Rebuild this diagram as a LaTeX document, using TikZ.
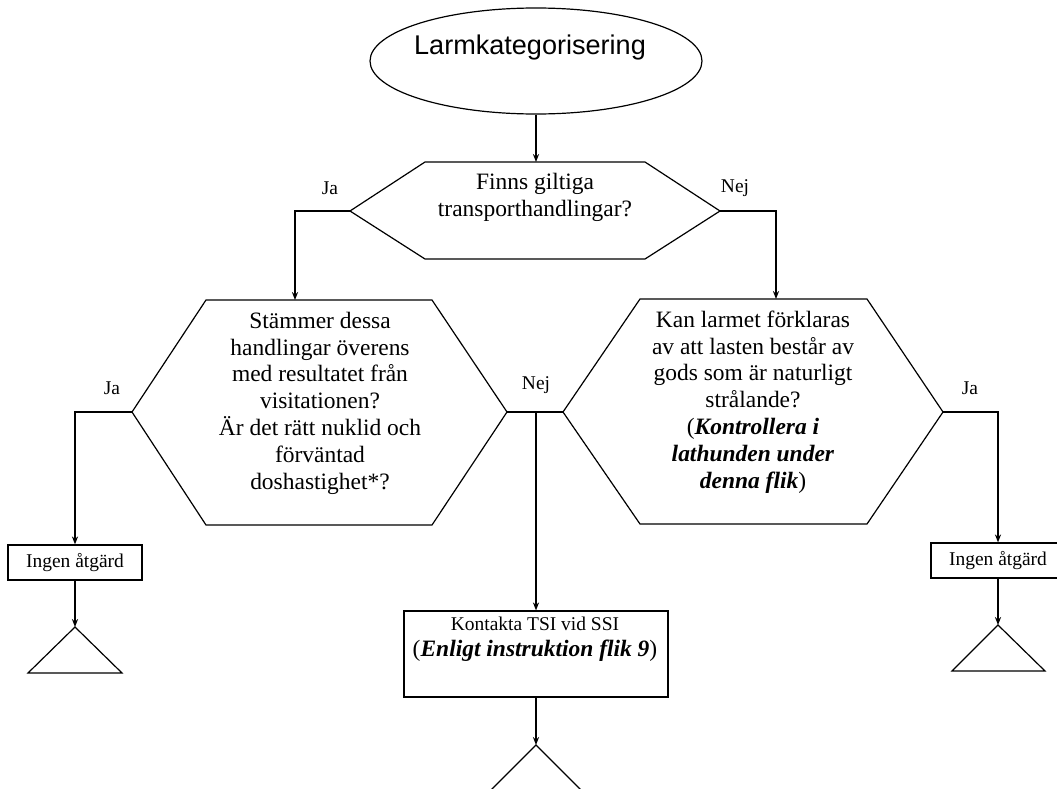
\documentclass[tikz,border=0pt]{standalone}
\usepackage{fontspec}
\setmainfont{Liberation Serif}
\newfontfamily\arialf{Liberation Sans}
\usetikzlibrary{shapes.geometric,arrows.meta}
\newcommand{\fbig}{\fontsize{17.6}{20.1}\selectfont}
\newcommand{\fsmall}{\fontsize{14.6}{17}\selectfont}
\newcommand{\fstart}{\arialf\fontsize{20.3}{24}\selectfont}
\begin{document}
\begin{tikzpicture}[x=0.75pt,y=-0.75pt,
  outline/.style={draw, line width=0.9pt, line join=miter},
  conn/.style={-{Stealth[length=6pt,width=4.6pt]}, line width=0.9pt},
  plain/.style={line width=0.9pt},
  qtext/.style={align=center, inner sep=0pt, font=\fbig},
  lbl/.style={inner sep=0pt, font=\fsmall},
  actbox/.style={draw, line width=0.9pt, inner sep=0pt}]
\useasboundingbox (0,0) rectangle (1057,789);

% start ellipse
\node[draw, ellipse, line width=0.9pt, minimum width=332*0.75pt, minimum height=106*0.75pt, inner sep=0pt] (start) at (536,61) {};
\node[inner sep=0pt, font=\fstart] (starttext) at (530,47) {Larmkategorisering};

% question 1
\coordinate (q1w) at (350,211);
\coordinate (q1nw) at (425,162);
\coordinate (q1n) at (536,162);
\coordinate (q1ne) at (645,162);
\coordinate (q1e) at (720,211);
\coordinate (q1se) at (645,259);
\coordinate (q1sw) at (425,259);
\draw[outline] (q1w) -- (q1nw) -- (q1ne) -- (q1e) -- (q1se) -- (q1sw) -- cycle;
\node[qtext] (q1t) at (535,197) {Finns giltiga\\transporthandlingar?};

% question 2
\coordinate (q2w) at (132,412);
\coordinate (q2nw) at (206,300);
\coordinate (q2in) at (295,300);
\coordinate (q2ne) at (432,300);
\coordinate (q2e) at (507,412);
\coordinate (q2se) at (432,525);
\coordinate (q2sw) at (206,525);
\draw[outline] (q2w) -- (q2nw) -- (q2ne) -- (q2e) -- (q2se) -- (q2sw) -- cycle;
\node[qtext] (q2t) at (320,403) {Stämmer dessa\\handlingar överens\\med resultatet från\\visitationen?\\Är det rätt nuklid och\\förväntad\\doshastighet*?};

% question 3
\coordinate (q3w) at (563,412);
\coordinate (q3nw) at (640,299);
\coordinate (q3in) at (776,299);
\coordinate (q3ne) at (867,299);
\coordinate (q3e) at (943,412);
\coordinate (q3se) at (867,524);
\coordinate (q3sw) at (640,524);
\draw[outline] (q3w) -- (q3nw) -- (q3ne) -- (q3e) -- (q3se) -- (q3sw) -- cycle;
\node[qtext] (q3t) at (753,402) {Kan larmet förklaras\\av att lasten består av\\gods som är naturligt\\strålande?\\(\textbf{\textit{Kontrollera i}}\\\textbf{\textit{lathunden under}}\\\textbf{\textit{denna flik}})};

% action boxes
\node[actbox, minimum width=134*0.75pt, minimum height=35*0.75pt, font=\fsmall] (b1) at (75,562.5) {Ingen åtgärd};
\node[actbox, minimum width=134*0.75pt, minimum height=35*0.75pt, font=\fsmall] (b3) at (998,560.5) {Ingen åtgärd};
\node[actbox, minimum width=264*0.75pt, minimum height=86*0.75pt] (b2) at (536,654) {};
\node[inner sep=0pt, font=\fsmall] (b2t1) at (535,624) {Kontakta TSI vid SSI};
\node[inner sep=0pt, font=\fbig] (b2t2) at (535,651) {(\textbf{\textit{Enligt instruktion flik 9}})};

% end triangles
\coordinate (t1) at (75,627);
\draw[outline] (t1) -- (122,673) -- (28,673) -- cycle;
\coordinate (t3) at (998,625);
\draw[outline] (t3) -- (1045,671) -- (952,671) -- cycle;
\coordinate (t2) at (536,745);
\draw[outline] (t2) -- (582,791) -- (490,791) -- cycle;

% connectors
\draw[conn] (start.south) -- (q1n);
\draw[conn] (q1w) -| (q2in);
\draw[conn] (q1e) -| (q3in);
\draw[conn] (q2w) -| (b1.north);
\draw[conn] (q3e) -| (b3.north);
\coordinate (nej) at (536,412);
\draw[plain] (q2e) -- (q3w);
\draw[conn] (nej) -- (b2.north);
\draw[conn] (b1.south) -- (t1);
\draw[conn] (b3.south) -- (t3);
\draw[conn] (b2.south) -- (t2);

% labels
\node[lbl] (l1) at (330,188) {Ja};
\node[lbl] (l2) at (735,188) {Nej};
\node[lbl] (l3) at (112,388) {Ja};
\node[lbl] (l4) at (536,385) {Nej};
\node[lbl] (l5) at (970,388) {Ja};
\end{tikzpicture}
\end{document}
